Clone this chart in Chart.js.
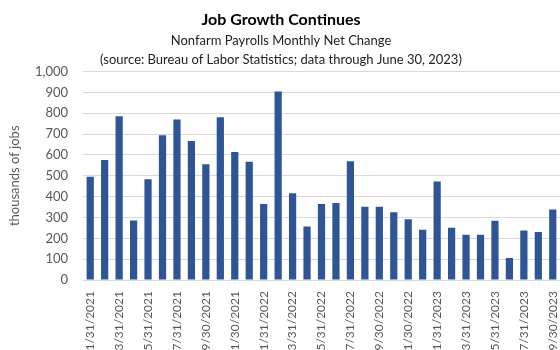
<!DOCTYPE html>
<html lang="en">
  <head>
    <meta charset="utf-8" />
    <title>Job Growth Continues</title>
    <style>
      * {
        margin: 0;
        padding: 0;
      }
      body {
        background: #fff;
        overflow: hidden;
      }
      .chartBox {
        width: 560px;
        height: 350px;
      }
    </style>
  </head>
  <body>
    <div class="chartBox">
      <canvas id="myChart"></canvas>
    </div>

    <script src="https://cdn.jsdelivr.net/npm/chart.js"></script>
    <script>
      // data block
      const months = [
        "1/31/2021", "2/28/2021", "3/31/2021", "4/30/2021", "5/31/2021", "6/30/2021",
        "7/31/2021", "8/31/2021", "9/30/2021", "10/31/2021", "11/30/2021", "12/31/2021",
        "1/31/2022", "2/28/2022", "3/31/2022", "4/30/2022", "5/31/2022", "6/30/2022",
        "7/31/2022", "8/31/2022", "9/30/2022", "10/31/2022", "11/30/2022", "12/31/2022",
        "1/31/2023", "2/28/2023", "3/31/2023", "4/30/2023", "5/31/2023", "6/30/2023",
        "7/31/2023", "8/31/2023", "9/30/2023",
      ];
      const netChange = [
        495, 576, 786, 286, 483, 695, 770, 667, 556, 781, 614, 568,
        365, 905, 416, 257, 365, 370, 570, 352, 352, 325, 292, 241,
        473, 251, 217, 217, 284, 106, 238, 230, 338,
      ];
      const yTicks = [0, 100, 200, 300, 400, 500, 600, 700, 800, 900, 1000];

      const fontFamily = "Lato, 'Liberation Sans', sans-serif";

      const config = {
        type: "bar",
        data: {
          labels: months,
          datasets: [
            {
              label: "Net change",
              data: netChange,
              backgroundColor: "#2F5597",
              categoryPercentage: 1,
              barPercentage: 0.5,
            },
          ],
        },
        options: {
          responsive: true,
          maintainAspectRatio: false,
          animation: false,
          layout: {
            padding: { left: 2, right: 0, top: 0, bottom: 0 },
          },
          plugins: {
            legend: { display: false },
            tooltip: { enabled: false },
            title: {
              display: true,
              text: "Job Growth Continues",
              color: "#000",
              font: { family: fontFamily, size: 16, weight: "bold" },
              padding: { top: 10, bottom: 2 },
            },
            subtitle: {
              display: true,
              text: [
                "Nonfarm Payrolls Monthly Net Change",
                "(source: Bureau of Labor Statistics; data through June 30, 2023)",
              ],
              color: "#222",
              font: { family: fontFamily, size: 13, lineHeight: 1.4 },
              padding: { top: 1, bottom: 3 },
            },
          },
          scales: {
            x: {
              grid: { display: false },
              border: { color: "#d9d9d9" },
              ticks: {
                autoSkip: false,
                minRotation: 90,
                maxRotation: 90,
                padding: 3,
                color: "#595959",
                font: { family: fontFamily, size: 12 },
                callback: function (value, index) {
                  return index % 2 === 0 ? this.getLabelForValue(value) : "";
                },
              },
              afterFit(scale) {
                scale.height = 70;
                scale.paddingLeft = 0;
                scale.paddingRight = 0;
              },
            },
            y: {
              min: 0,
              max: 1000,
              afterBuildTicks(scale) {
                scale.ticks = yTicks.map((v) => ({ value: v }));
              },
              grid: { color: "#d9d9d9", drawTicks: false },
              border: { display: false },
              ticks: {
                padding: 15,
                color: "#595959",
                font: { family: fontFamily, size: 13 },
                callback: (v) => v.toLocaleString("en-US"),
              },
              title: {
                display: true,
                text: "thousands of jobs",
                color: "#595959",
                font: { family: fontFamily, size: 13 },
                padding: { top: 5, bottom: 4 },
              },
              afterFit(scale) {
                scale.width = 81;
              },
            },
          },
        },
      };

      const myChart = new Chart(document.getElementById("myChart"), config);
    </script>
  </body>
</html>
